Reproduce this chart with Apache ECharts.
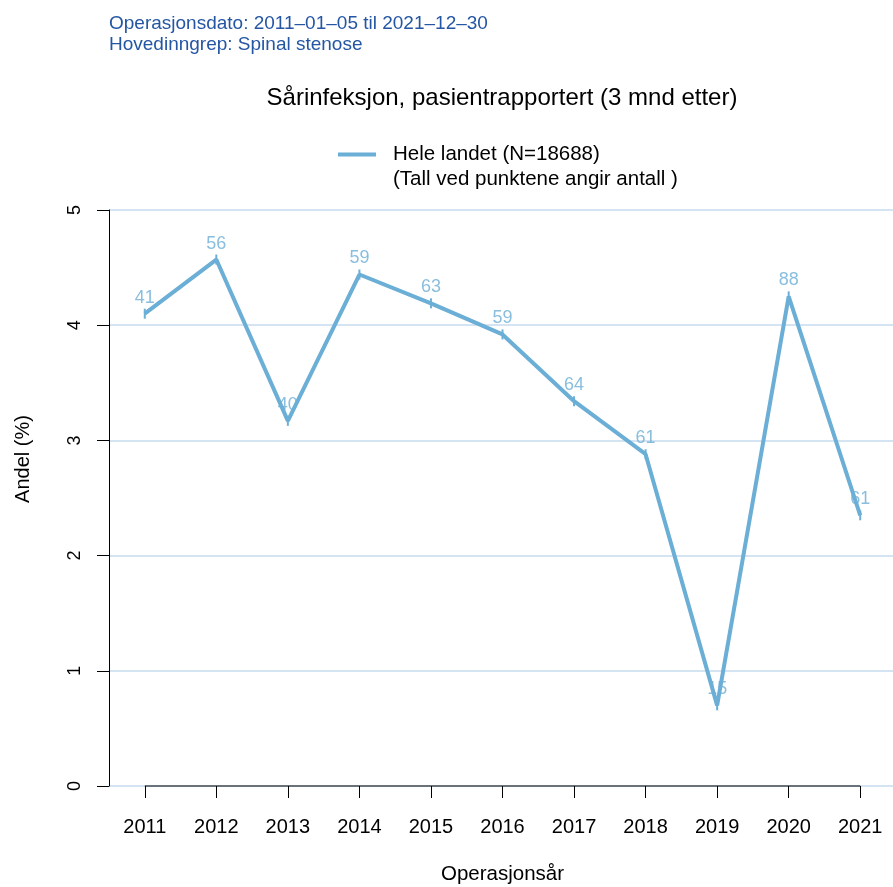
<!DOCTYPE html>
<html>
<head>
<meta charset="utf-8">
<script src="https://cdn.jsdelivr.net/npm/echarts@6/dist/echarts.min.js"></script>
<style>
html,body{margin:0;padding:0;background:#fff;}
#chart{width:893px;height:887px;}
</style>
</head>
<body>
<div id="chart"></div>
<script>
var years = [2011, 2012, 2013, 2014, 2015, 2016, 2017, 2018, 2019, 2020, 2021];
var andel = [4.10, 4.57, 3.17, 4.44, 4.19, 3.92, 3.34, 2.88, 0.70, 4.25, 2.35];
var antall = [41, 56, 40, 59, 63, 59, 64, 61, 15, 88, 61];
var yTicks = [0, 1, 2, 3, 4, 5];
var seriesName = 'Hele landet (N=18688)';
var noteText = '(Tall ved punktene angir antall )';
var headerLines = ['Operasjonsdato: 2011\u201301\u201305 til 2021\u201312\u201330', 'Hovedinngrep: Spinal stenose'];
var titleText = 'S\u00e5rinfeksjon, pasientrapportert (3 mnd etter)';
var xName = 'Operasjons\u00e5r';
var yName = 'Andel (%)';

var lineColor = '#6BAED6';
var font = 'Liberation Sans, Arial, sans-serif';

var pts = years.map(function (y, i) { return [y, andel[i]]; });
var labelPts = years.map(function (y, i) { return { value: [y, andel[i]], label: { formatter: String(antall[i]) } }; });
var axisPts = [[years[0], yTicks[0]], [years[years.length - 1], yTicks[0]]];

var chart = echarts.init(document.getElementById('chart'), null, { renderer: 'canvas' });
chart.setOption({
  animation: false,
  backgroundColor: '#fff',
  textStyle: { fontFamily: font },
  grid: { left: 109, top: 210, width: 787, height: 576, containLabel: false, outerBoundsMode: 'none' },
  title: {
    text: titleText,
    left: 502, top: 86, textAlign: 'center', padding: 0,
    textStyle: { fontSize: 24, fontWeight: 'normal', color: '#000', fontFamily: font }
  },
  legend: {
    left: 338, top: 144, padding: 0,
    itemWidth: 38, itemHeight: 4,
    icon: 'rect',
    data: [{ name: seriesName, icon: 'rect' }],
    textStyle: { fontSize: 20.5, color: '#000', fontFamily: font, padding: [0, 0, 0, 12] }
  },
  graphic: [
    { type: 'text', left: 109, top: 14, style: { text: headerLines[0], fontSize: 19, fill: '#2456A4', fontFamily: font } },
    { type: 'text', left: 109, top: 35, style: { text: headerLines[1], fontSize: 19, fill: '#2456A4', fontFamily: font } },
    { type: 'text', left: 393, top: 169, style: { text: noteText, fontSize: 20.5, fill: '#000', fontFamily: font } },
    { type: 'text', x: 23, y: 459, rotation: Math.PI / 2, style: { text: yName, fontSize: 20, fill: '#000', fontFamily: font, align: 'center', verticalAlign: 'middle' } }
  ],
  xAxis: {
    type: 'value',
    min: 2010.5, max: 2021.5,
    name: xName, nameLocation: 'middle', nameGap: 78,
    nameTextStyle: { fontSize: 20.5, color: '#000', fontFamily: font },
    axisLine: { show: false },
    splitLine: { show: false },
    axisTick: { show: true, length: 12, lineStyle: { color: '#000', width: 1 }, customValues: years },
    axisLabel: { fontSize: 20, color: '#000', margin: 31, fontFamily: font, customValues: years, formatter: function (v) { return String(v); } }
  },
  yAxis: {
    type: 'value',
    min: 0, max: 5, interval: 1,
    axisLine: { show: true, lineStyle: { color: '#000', width: 1 } },
    axisTick: { show: true, length: 12, lineStyle: { color: '#000', width: 1 } },
    axisLabel: { fontSize: 18, color: '#000', rotate: 90, margin: 25, fontFamily: font, customValues: yTicks },
    splitLine: { show: true, lineStyle: { color: '#C6DBEF', width: 1.5 } }
  },
  series: [
    {
      name: 'labels',
      type: 'scatter',
      z: 1,
      symbolSize: 0,
      silent: true,
      data: labelPts,
      label: { show: true, position: 'top', distance: 7, fontSize: 18, color: lineColor, fontFamily: font }
    },
    {
      name: 'xaxisline',
      type: 'line',
      z: 2,
      silent: true,
      clip: false,
      symbol: 'none',
      data: axisPts,
      lineStyle: { color: '#000', width: 1 },
      itemStyle: { color: '#000' }
    },
    {
      name: seriesName,
      type: 'line',
      z: 3,
      data: pts,
      lineStyle: { color: lineColor, width: 4 },
      itemStyle: { color: lineColor },
      symbol: 'rect',
      symbolSize: [2, 10],
      showSymbol: true
    }
  ]
});
</script>
</body>
</html>
